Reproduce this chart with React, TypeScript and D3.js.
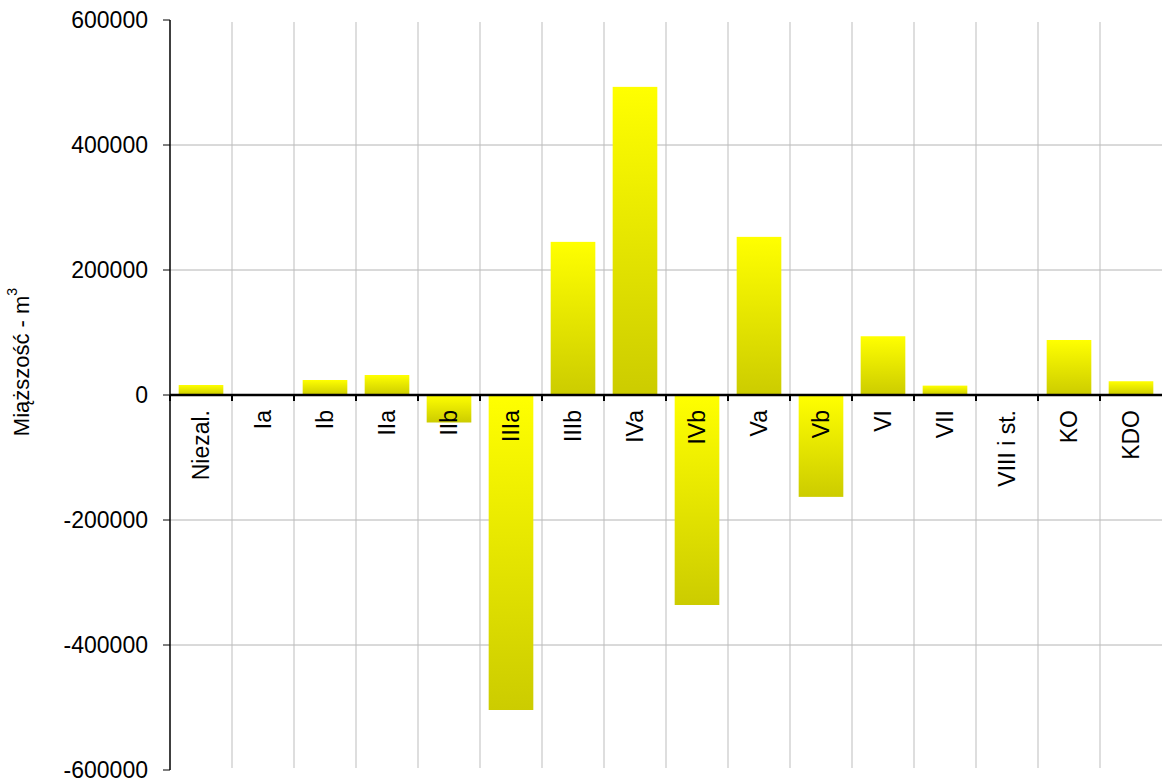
import React from "react";
import * as d3 from "d3";

const categories = ["Niezal.", "Ia", "Ib", "IIa", "IIb", "IIIa", "IIIb", "IVa", "IVb", "Va", "Vb", "VI", "VII", "VIII i st.", "KO", "KDO"];
const values = [16000, 0, 24000, 32000, -44000, -504000, 245000, 493000, -336000, 253000, -163000, 94000, 15000, 0, 88000, 22000];
const yTicks = [-600000, -400000, -200000, 0, 200000, 400000, 600000];

const W = 1162;
const H = 783;
const left = 170;
const right = 1162;
const top = 20;
const bottom = 770;

export default function App() {
  const x = d3.scaleBand<string>().domain(categories).range([left, right]).paddingInner(0).paddingOuter(0);
  const y = d3.scaleLinear().domain([-600000, 600000]).range([bottom, top]);
  const bw = x.bandwidth() * 0.72;
  const font = "'Liberation Sans', Arial, sans-serif";

  return (
    <div style={{ position: "absolute", left: 0, top: 0 }}>
      <svg width={W} height={H} style={{ display: "block", background: "#fff" }} fontFamily={font}>
        <defs>
          <linearGradient id="barGrad" x1="0" y1="0" x2="0" y2="1">
            <stop offset="0%" stopColor="#FFFF00" />
            <stop offset="100%" stopColor="#CCCC00" />
          </linearGradient>
        </defs>
        {/* horizontal gridlines */}
        {yTicks.filter((t) => t !== 0 && t !== 600000 && t !== -600000).map((t) => (
          <line key={"h" + t} x1={left} x2={right} y1={y(t)} y2={y(t)} stroke="#B4B4B4" strokeWidth={1} />
        ))}
        {/* vertical gridlines */}
        {categories.slice(1).map((c) => (
          <line key={"v" + c} x1={x(c)!} x2={x(c)!} y1={top + 2} y2={bottom - 2} stroke="#BDBDBD" strokeWidth={1} />
        ))}
        {/* bars */}
        {categories.map((c, i) => {
          const v = values[i];
          if (v === 0) return null;
          const y0 = y(Math.max(0, v));
          const y1 = y(Math.min(0, v));
          return (
            <rect key={"b" + c} x={x(c)! + (x.bandwidth() - bw) / 2} y={y0} width={bw} height={y1 - y0} fill="url(#barGrad)" />
          );
        })}
        {/* left axis */}
        <line x1={left} x2={left} y1={top} y2={bottom} stroke="#000" strokeWidth={1.5} />
        {yTicks.map((t) => (
          <g key={"t" + t}>
            <line x1={left - 7} x2={left} y1={y(t)} y2={y(t)} stroke="#000" strokeWidth={1} />
            <text x={left - 22} y={y(t)} textAnchor="end" dominantBaseline="central" fontSize={23} fill="#000">
              {String(t)}
            </text>
          </g>
        ))}
        {/* zero axis */}
        <line x1={left} x2={right} y1={y(0)} y2={y(0)} stroke="#000" strokeWidth={2.5} />
        {categories.map((c) => (
          <line key={"zt" + c} x1={x(c)!} x2={x(c)!} y1={y(0)} y2={y(0) + 6} stroke="#000" strokeWidth={2} />
        ))}
        {/* category labels */}
        {categories.map((c) => {
          const cx = x(c)! + x.bandwidth() / 2;
          const cy = y(0) + 15;
          return (
            <text key={"l" + c} transform={`translate(${cx},${cy}) rotate(-90)`} textAnchor="end" dominantBaseline="central" fontSize={23} fill="#000">
              {c}
            </text>
          );
        })}
        {/* y axis title */}
        <text transform={`translate(21,${(top + bottom) / 2 - 33}) rotate(-90)`} textAnchor="middle" dominantBaseline="central" fontSize={22} fill="#000">
          Miąższość - m<tspan fontSize={14} dy={-9}>3</tspan>
        </text>
      </svg>
    </div>
  );
}
